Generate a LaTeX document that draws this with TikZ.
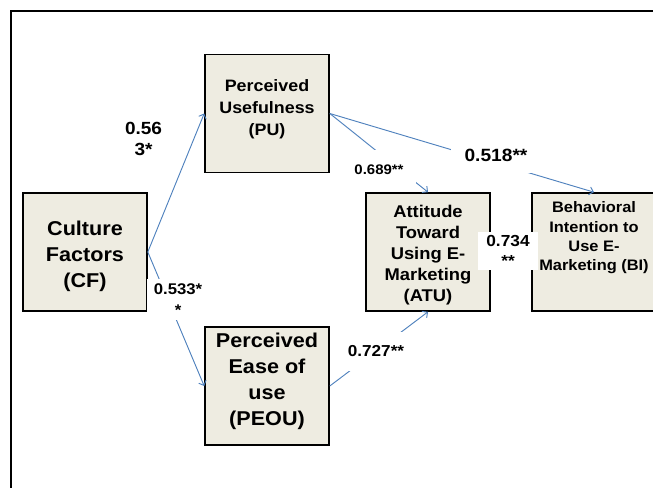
\documentclass[tikz,border=0pt]{standalone}
\usepackage{fontspec}
\setmainfont{Liberation Sans}[FakeStretch=1.08]
\usetikzlibrary{arrows.meta}
\definecolor{boxfill}{HTML}{EEECE1}
\definecolor{arrowblue}{HTML}{4F81BD}
\begin{document}
\begin{tikzpicture}[x=0.75pt,y=-0.75pt,
  box/.style={draw=black, line width=1.2pt, fill=boxfill, minimum width=93pt,
    minimum height=88.5pt, inner sep=0pt, align=center},
  conn/.style={draw=arrowblue, line width=0.7pt,
    -{Straight Barb[length=3pt,width=6pt]}},
  lbl/.style={fill=white, inner sep=0pt, align=center, text=black}]
\useasboundingbox (0,0) rectangle (653,488);
\clip (0,0) rectangle (653,488);
% outer frame (cut by the picture edge)
\draw[line width=1.5pt] (11,600) -- (11,11) -- (700,11);

% boxes
\node[box, font=\bfseries\fontsize{15}{19.5}\selectfont] (cf) at (85,252)
  {\rule{0pt}{17.4pt}Culture\\Factors\\(CF)};
\node[box, font=\bfseries\fontsize{12.4}{16.3}\selectfont] (pu) at (267,113.5)
  {Perceived\\Usefulness\\(PU)\rule[-8.8pt]{0pt}{0pt}};
\node[box, font=\bfseries\fontsize{15}{19.3}\selectfont] (peou) at (267,386)
  {Perceived\\Ease of\\use\\(PEOU)\rule[-10.2pt]{0pt}{0pt}};
\node[box, font=\bfseries\fontsize{12.75}{15.75}\selectfont] (atu) at (428,252)
  {\rule{0pt}{13.9pt}Attitude\\Toward\\Using E-\\Marketing\\(ATU)};
\node[box, font=\bfseries\fontsize{11.4}{14.5}\selectfont] (bi) at (594,252)
  {Behavioral\\Intention to\\Use E-\\Marketing (BI)\rule[-23.6pt]{0pt}{0pt}};

% connectors
\draw[conn] (cf.east) -- (pu.west);
\draw[conn] (cf.east) -- (peou.west);
\draw[conn] (pu.east) -- (atu.north);
\draw[conn] (pu.east) -- (bi.north);
\draw[conn] (peou.east) -- (atu.south);
\draw[conn] (atu.east) -- (bi.west);

% labels
\node[lbl, fill=none, font=\bfseries\fontsize{13.2}{15.5}\selectfont] (l1) at (143.5,138.7) {0.56\\3*};
\node[lbl, minimum width=46.5pt, minimum height=30pt, font=\bfseries\fontsize{11.6}{15.3}\selectfont] (l2) at (178,299.5) {0.533*\\*};
\node[lbl, minimum width=55.5pt, minimum height=30pt, font=\bfseries\fontsize{10.4}{12.5}\selectfont] (l3) at (379,170) {0.689**};
\node[lbl, minimum width=67.5pt, minimum height=27pt, font=\bfseries\fontsize{13.3}{16}\selectfont] (l4) at (496,155) {0.518**};
\node[lbl, minimum width=49.5pt, minimum height=29.25pt, font=\bfseries\fontsize{11.9}{14}\selectfont] (l5) at (376,351) {0.727**};
\node[lbl, minimum width=45pt, minimum height=28.5pt, font=\bfseries\fontsize{12}{14.6}\selectfont] (l6) at (508,251) {0.734\\**};
\end{tikzpicture}
\end{document}
